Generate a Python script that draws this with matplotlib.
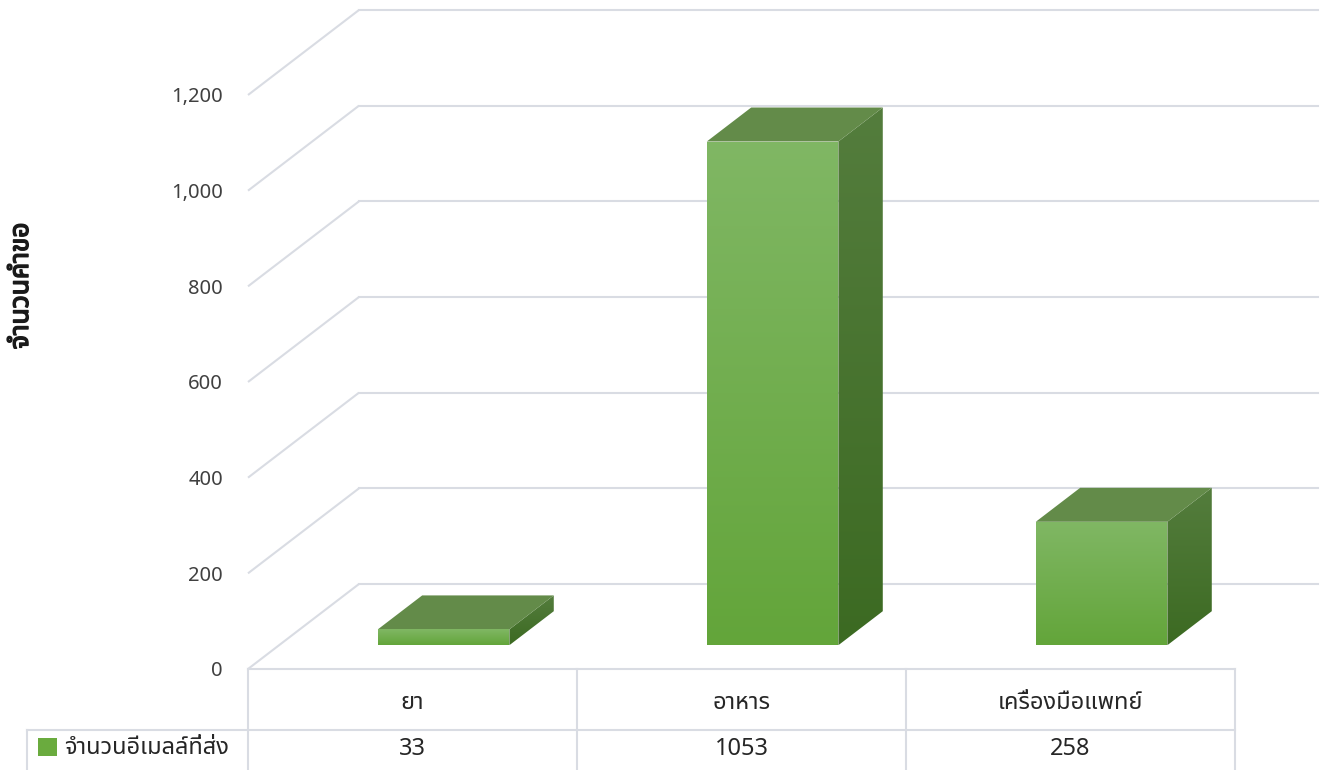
import numpy as np
import matplotlib
matplotlib.use("Agg")
import matplotlib.pyplot as plt
import matplotlib.patheffects as pe
from matplotlib import font_manager
from matplotlib.ft2font import FT2Font
from matplotlib.patches import Polygon

# data
categories = ['ยา', 'อาหาร', 'เครื่องมือแพทย์']
values = [33, 1053, 258]
series_name = 'จำนวนอีเมลล์ที่ส่ง'
y_label = 'จำนวนคำขอ'
y_ticks = [0, 200, 400, 600, 800, 1000, 1200]


def find_thai_font():
    """Look for an installed family that has Thai glyphs"""
    found = []
    for f in font_manager.fontManager.ttflist:
        try:
            cmap = FT2Font(f.fname).get_charmap()
        except Exception:
            continue
        if 0x0E01 in cmap and 0x0E33 in cmap:
            found.append(f.name)
    for pref in ['Noto Sans Thai', 'Noto Sans Thai UI', 'Noto Sans Thai Looped',
                 'Loma', 'Garuda', 'Sarabun', 'Tlwg Typo']:
        if pref in found:
            return pref
    return found[0] if found else 'DejaVu Sans'


thai = find_thai_font()
FAM = [thai, 'DejaVu Sans']
plt.rcParams['font.family'] = FAM

W_PX, H_PX = 1332, 770
fig = plt.figure(figsize=(W_PX / 100, H_PX / 100), dpi=100)

# front plane of the plot (pixels, from top-left)
X0, X1 = 248, 1235
Y0, Y1 = 669, 95
ax = fig.add_axes([X0 / W_PX, (H_PX - Y0) / H_PX, (X1 - X0) / W_PX, (Y0 - Y1) / H_PX])
ax.set_xlim(-0.5, len(categories) - 0.5)
ax.set_ylim(0, 1200)
ax.set_facecolor('none')
for s in ax.spines.values():
    s.set_visible(False)
ax.set_xticks([])
ax.set_yticks(y_ticks)
ax.set_yticklabels([f'{t:,}' for t in y_ticks], fontsize=14.5, color='#404040')
ax.tick_params(axis='y', length=0, pad=18)

# depth of the fake 3d box in data units
px_per_cat = (X1 - X0) / len(categories)
px_per_val = (Y0 - Y1) / 1200
DX = 111 / px_per_cat
DY = 85 / px_per_val
back_right = -0.5 + (1318 - X0) / px_per_cat
grid_col = '#d9dce3'

for t in y_ticks:
    ax.plot([-0.5, -0.5 + DX], [t, t + DY], color=grid_col, lw=1.5,
            clip_on=False, zorder=1, solid_capstyle='butt')
    ax.plot([-0.5 + DX, back_right], [t + DY, t + DY], color=grid_col, lw=1.5,
            clip_on=False, zorder=1)


def grad_fill(poly_xy, c_top, c_bot, zorder):
    poly = Polygon(poly_xy, closed=True, facecolor='none', edgecolor='none')
    ax.add_patch(poly)
    xs = [p[0] for p in poly_xy]
    ys = [p[1] for p in poly_xy]
    c_top = np.array(matplotlib.colors.to_rgb(c_top))
    c_bot = np.array(matplotlib.colors.to_rgb(c_bot))
    f = np.linspace(0, 1, 256)[:, None]
    img = (c_top * (1 - f) + c_bot * f)[:, None, :]
    im = ax.imshow(img, extent=[min(xs), max(xs), min(ys), max(ys)],
                   origin='upper', aspect='auto', zorder=zorder,
                   interpolation='bilinear')
    im.set_clip_path(poly)


Z0, Z1 = 0.28, 0.68
bar_w = 0.40
for i, v in enumerate(values):
    xl = i - bar_w / 2
    xr = i + bar_w / 2
    f0x, f0y = Z0 * DX, Z0 * DY
    b0x, b0y = Z1 * DX, Z1 * DY
    # right side
    side = [(xr + f0x, f0y), (xr + b0x, b0y), (xr + b0x, v + b0y), (xr + f0x, v + f0y)]
    grad_fill(side, '#547d3d', '#3c6a22', 3)
    # top
    top = [(xl + f0x, v + f0y), (xr + f0x, v + f0y), (xr + b0x, v + b0y), (xl + b0x, v + b0y)]
    ax.add_patch(Polygon(top, closed=True, facecolor='#638b49', edgecolor='none', zorder=3))
    # front
    front = [(xl + f0x, f0y), (xr + f0x, f0y), (xr + f0x, v + f0y), (xl + f0x, v + f0y)]
    grad_fill(front, '#80b764', '#63a53a', 4)

ax.set_xlim(-0.5, len(categories) - 0.5)
ax.set_ylim(0, 1200)

# overlay in pixel coords for the data table and axis title
ov = fig.add_axes([0, 0, 1, 1], zorder=-1)
ov.set_xlim(0, W_PX)
ov.set_ylim(H_PX, 0)
ov.axis('off')

tcol = '#d9dce3'
row_mid = 730
ov.plot([X0, X1], [Y0, Y0], color=tcol, lw=1.5)
ov.plot([27, X1], [row_mid, row_mid], color=tcol, lw=1.5)
ov.plot([27, 27], [row_mid, H_PX], color=tcol, lw=1.5)
for k in range(len(categories) + 1):
    xk = X0 + k * px_per_cat
    ov.plot([xk, xk], [Y0, H_PX], color=tcol, lw=1.5)

for i, (c, v) in enumerate(zip(categories, values)):
    xc = X0 + (i + 0.5) * px_per_cat
    ov.text(xc, 703, c, ha='center', va='center', fontsize=17, color='#262626')
    ov.text(xc, 749, str(v), ha='center', va='center', fontsize=17, color='#262626')

ov.add_patch(plt.Rectangle((38, 738), 19, 18, facecolor='#6aab3e', edgecolor='none'))
ov.text(64, 748, series_name, ha='left', va='center', fontsize=17, color='#262626')

# the thai font has no bold face, so thicken the glyphs with a stroke
fig.text(21 / W_PX, 1 - 286 / H_PX, y_label, rotation=90, ha='center', va='center',
         fontsize=19, fontweight='bold', color='#1a1a1a',
         path_effects=[pe.withStroke(linewidth=1.1, foreground='#1a1a1a')])

fig.savefig('out.png', dpi=100)
